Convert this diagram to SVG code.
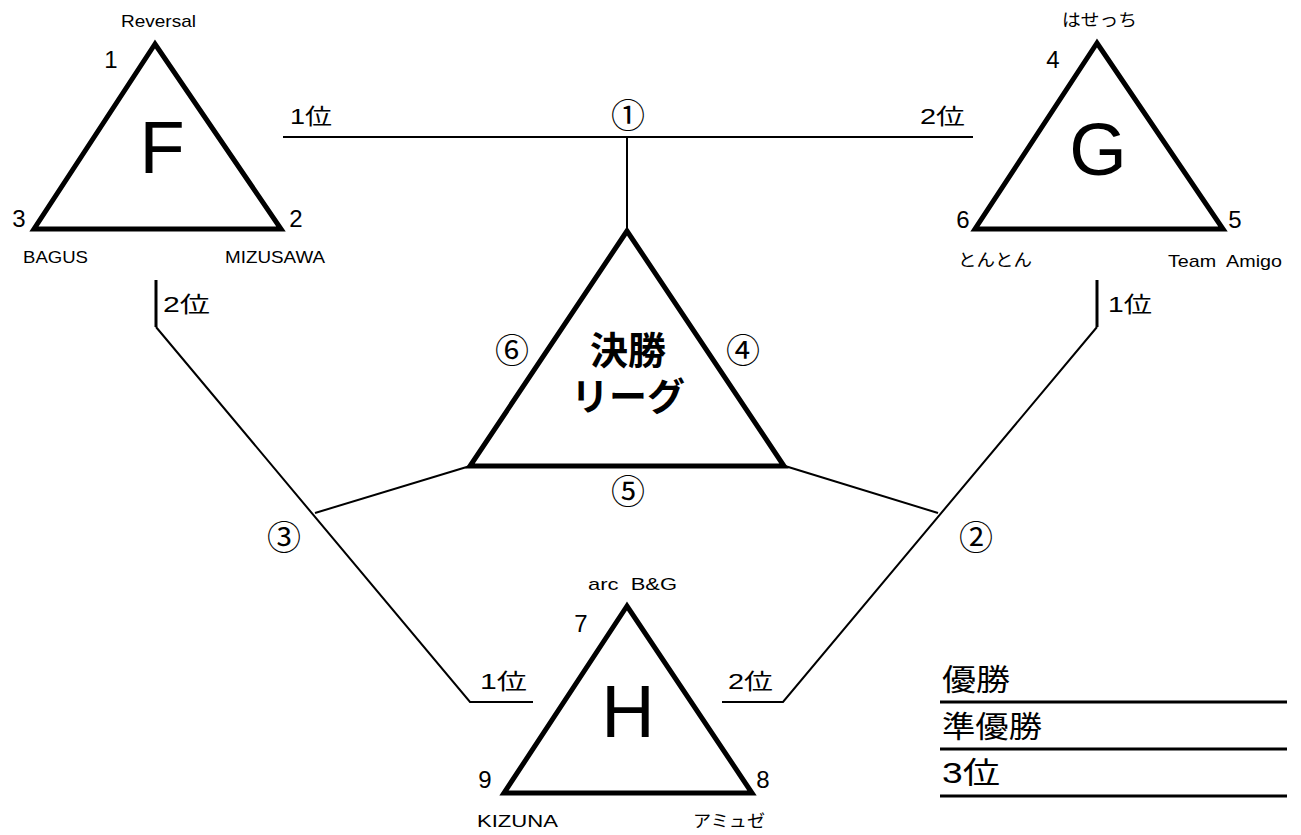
<svg xmlns="http://www.w3.org/2000/svg" width="1301" height="835" viewBox="0 0 1301 835">
<style>
text{font-family:"Liberation Sans","Noto Sans CJK JP",sans-serif;fill:#000}
.tri{fill:none;stroke:#000;stroke-width:5;stroke-linejoin:miter}
.ln{fill:none;stroke:#000;stroke-width:2}
.lt{fill:none;stroke:#000;stroke-width:3}
.big{font-size:74px;text-anchor:middle}
.num{font-size:24px;text-anchor:middle}
.nm{font-size:17px;white-space:pre}
.rk{font-size:22px}
.cc{font-size:34px;text-anchor:middle;font-family:"Noto Sans CJK JP",sans-serif}
.lg{font-size:30px}
.fin{font-size:38px;font-weight:bold;text-anchor:middle}
</style>
<rect width="1301" height="835" fill="#fff"/>
<g id="connectors">
<polyline class="ln" points="283,137 973,137"/>
<line class="ln" x1="627" y1="137" x2="627" y2="230"/>
<line class="lt" x1="156" y1="280" x2="156" y2="327"/>
<polyline class="ln" points="156,327 470,702 533,702"/>
<line class="ln" x1="315" y1="513" x2="470" y2="466"/>
<line class="lt" x1="1097" y1="280" x2="1097" y2="327"/>
<polyline class="ln" points="1097,327 783,702 722,702"/>
<line class="ln" x1="938" y1="513" x2="785" y2="466"/>
<text class="rk" x="290" y="124" textLength="42" lengthAdjust="spacingAndGlyphs">1位</text>
<text class="cc" x="628" y="128">①</text>
<text class="rk" x="920" y="124" textLength="45" lengthAdjust="spacingAndGlyphs">2位</text>
<text class="rk" x="163" y="312" textLength="47" lengthAdjust="spacingAndGlyphs">2位</text>
<text class="rk" x="1108" y="312" textLength="44" lengthAdjust="spacingAndGlyphs">1位</text>
<text class="cc" x="284" y="550">③</text>
<text class="cc" x="976" y="550">②</text>
<text class="rk" x="480" y="689" textLength="47" lengthAdjust="spacingAndGlyphs">1位</text>
<text class="rk" x="728" y="689" textLength="45" lengthAdjust="spacingAndGlyphs">2位</text>
</g>
<g id="F">
<polygon class="tri" points="155,44 34,229 281,229"/>
<text class="big" x="162" y="173">F</text>
<text class="nm" x="121" y="27" textLength="75" lengthAdjust="spacingAndGlyphs">Reversal</text>
<text class="num" x="111" y="68">1</text>
<text class="num" x="19" y="227">3</text>
<text class="num" x="296" y="227">2</text>
<text class="nm" x="23" y="263" textLength="65" lengthAdjust="spacingAndGlyphs">BAGUS</text>
<text class="nm" x="225" y="263" textLength="100" lengthAdjust="spacingAndGlyphs">MIZUSAWA</text>
</g>
<g id="G">
<polygon class="tri" points="1097,43 975,229 1223,229"/>
<text class="big" x="1098" y="175">G</text>
<text class="nm" x="1062" y="26" textLength="75" lengthAdjust="spacingAndGlyphs">はせっち</text>
<text class="num" x="1053" y="68">4</text>
<text class="num" x="963" y="228">6</text>
<text class="num" x="1235" y="228">5</text>
<text class="nm" x="958" y="266" textLength="74" lengthAdjust="spacingAndGlyphs">とんとん</text>
<text class="nm" x="1168" y="267" textLength="114" lengthAdjust="spacingAndGlyphs" xml:space="preserve">Team  Amigo</text>
</g>
<g id="final">
<polygon class="tri" points="627,231 470,466 784,466"/>
<text class="fin" x="628" y="364">決勝</text>
<text class="fin" x="628" y="410">リーグ</text>
<text class="cc" x="512" y="363">⑥</text>
<text class="cc" x="743" y="363">④</text>
<text class="cc" x="628" y="504">⑤</text>
</g>
<g id="H">
<polygon class="tri" points="627,606 504,793 752,793"/>
<text class="big" x="628" y="737">H</text>
<text class="nm" x="588" y="590" textLength="89" lengthAdjust="spacingAndGlyphs" xml:space="preserve">arc  B&amp;G</text>
<text class="num" x="581" y="632">7</text>
<text class="num" x="485" y="788">9</text>
<text class="num" x="763" y="788">8</text>
<text class="nm" x="477" y="827" textLength="81" lengthAdjust="spacingAndGlyphs">KIZUNA</text>
<text class="nm" x="693" y="827" textLength="72" lengthAdjust="spacingAndGlyphs">アミュゼ</text>
</g>
<g id="legend">
<text class="lg" x="942" y="690" textLength="68" lengthAdjust="spacingAndGlyphs">優勝</text>
<line class="lt" x1="940" y1="702" x2="1287" y2="702"/>
<text class="lg" x="942" y="737" textLength="100" lengthAdjust="spacingAndGlyphs">準優勝</text>
<line class="lt" x1="940" y1="749" x2="1287" y2="749"/>
<text class="lg" x="942" y="783" textLength="58" lengthAdjust="spacingAndGlyphs">3位</text>
<line class="lt" x1="940" y1="796" x2="1287" y2="796"/>
</g>
</svg>
